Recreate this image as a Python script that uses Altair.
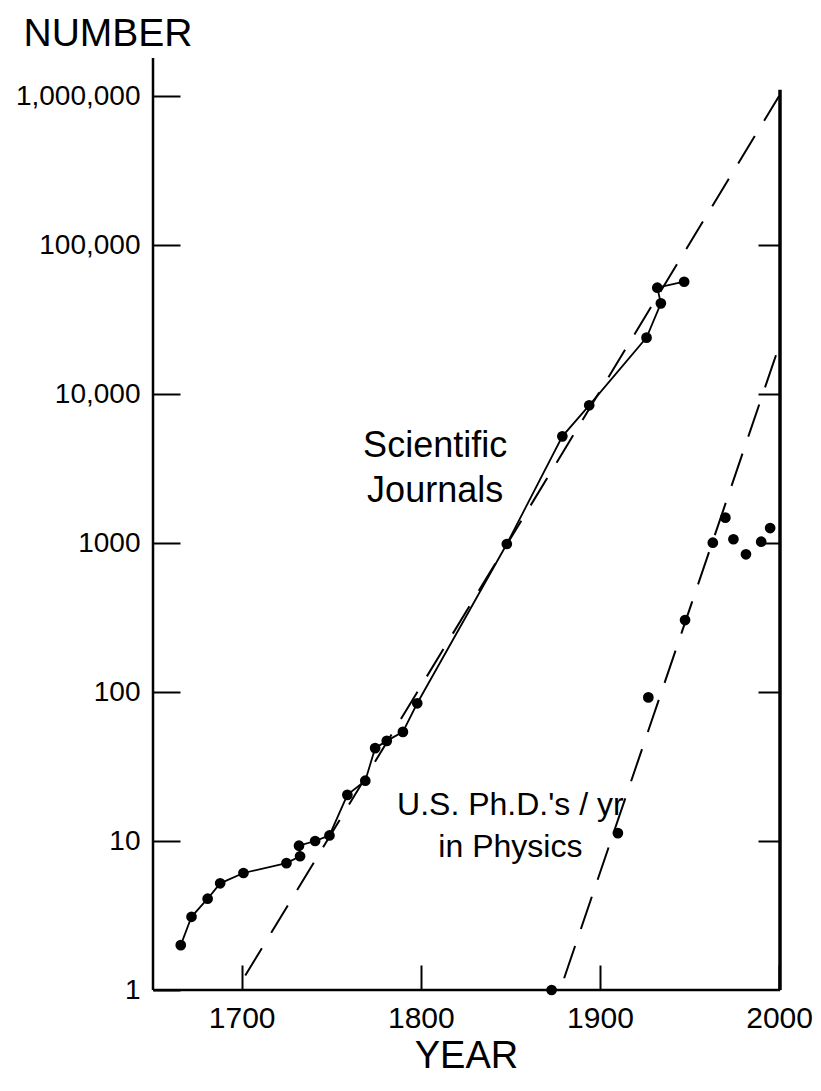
import altair as alt
import pandas as pd

# ---------------- data ----------------
journal_years = [1666, 1672, 1681, 1688, 1701, 1725, 1732.6, 1732, 1741, 1749,
                 1759, 1769, 1774.5, 1781, 1790, 1798, 1848, 1879, 1894, 1926,
                 1934, 1932, 1947]
journal_values = [2.0, 3.1, 4.1, 5.2, 6.1, 7.1, 7.9, 9.3, 10, 10.9,
                  20.4, 25.4, 42, 47, 54, 84, 985, 5200, 8400, 23900,
                  40600, 51700, 56700]

phd_years = [1873, 1910, 1927, 1947.5, 1963, 1970, 1974.5, 1981.5, 1990, 1995]
phd_values = [1.0, 11.3, 92, 304, 1005, 1480, 1060, 840, 1020, 1260]

journal_fit_years = [1702, 2000]
journal_fit_values = [1.25, 1000000]
phd_fit_years = [1880, 2000]
phd_fit_values = [1.2, 21000]

x_ticks = [1700, 1800, 1900, 2000]
y_ticks = [1, 10, 100, 1000, 10000, 100000, 1000000]
right_ticks = [10, 100, 1000, 10000, 100000]

journal_label = "Scientific\nJournals"
phd_label = "U.S. Ph.D.'s / yr\nin Physics"

# ---------------- chart ----------------
FONT = "Liberation Sans, Arial, Helvetica, sans-serif"
W, H = 627, 932

X_SCALE = alt.Scale(domain=[1650.5, 2000.5], nice=False, zero=False)
Y_SCALE = alt.Scale(type="log", domain=[1, 1800000], nice=False)

journals = pd.DataFrame({"year": journal_years, "value": journal_values,
                         "order": list(range(len(journal_years)))})
phd = pd.DataFrame({"year": phd_years, "value": phd_values})
jfit = pd.DataFrame({"year": journal_fit_years, "value": journal_fit_values})
pfit = pd.DataFrame({"year": phd_fit_years, "value": phd_fit_values})
dummy = alt.Data(values=[{"k": 0}])

x_axis = alt.Axis(orient="bottom", values=x_ticks, format="d", domain=False,
                  ticks=True, tickSize=25, tickWidth=2, tickColor="black",
                  offset=-25, labelFont=FONT, labelFontSize=30,
                  labelColor="black", labelPadding=13, labelFlush=False,
                  labelOverlap=False, grid=False, title="YEAR",
                  titleFont=FONT, titleFontSize=38, titleFontWeight="normal",
                  titleColor="black", titleBaseline="alphabetic",
                  titleAlign="center", titleX=313, titleY=102)

y_axis = alt.Axis(orient="left", values=y_ticks,
                  labelExpr="datum.value >= 10000 ? format(datum.value, ',') : format(datum.value, 'd')",
                  domain=False, tickSize=27, tickWidth=2, tickColor="black",
                  offset=-27, labelFont=FONT, labelFontSize=28,
                  labelColor="black", labelPadding=13, labelFlush=False,
                  labelOverlap=False, grid=False, title="NUMBER",
                  titleFont=FONT, titleFontSize=39, titleFontWeight="normal",
                  titleColor="black", titleAngle=0, titleAlign="left",
                  titleBaseline="alphabetic", titleX=-157, titleY=-13)

r_axis = alt.Axis(orient="right", values=right_ticks, domain=False,
                  labels=False, tickSize=22, tickWidth=2, tickColor="black",
                  offset=-22, grid=False, title="")


def X(axis=None):
    if axis is None:
        return alt.X("year:Q", scale=X_SCALE, axis=None)
    return alt.X("year:Q", scale=X_SCALE, axis=axis)


def Y(axis=None):
    if axis is None:
        return alt.Y("value:Q", scale=Y_SCALE, axis=None)
    return alt.Y("value:Q", scale=Y_SCALE, axis=axis)


left_line = alt.Chart(dummy).mark_rule(color="black", strokeWidth=2.5).encode(
    x=alt.value(0), y=alt.value(0), y2=alt.value(H))
bottom_line = alt.Chart(dummy).mark_rule(color="black", strokeWidth=2.5).encode(
    x=alt.value(0), x2=alt.value(W), y=alt.value(H))
right_line = alt.Chart(dummy).mark_rule(color="black", strokeWidth=3.5).encode(
    x=alt.value(W), y=alt.YDatum(1100000, scale=Y_SCALE, axis=None),
    y2=alt.value(H))

jfit_line = alt.Chart(jfit).mark_line(color="black", strokeWidth=2,
                                      strokeDash=[32, 18]).encode(
    x=X(x_axis), y=Y(y_axis))
pfit_line = alt.Chart(pfit).mark_line(color="black", strokeWidth=2,
                                      strokeDash=[34, 18]).encode(
    x=X(), y=Y())

j_line = alt.Chart(journals).mark_line(color="black", strokeWidth=1.8).encode(
    x=X(), y=Y(), order=alt.Order("order:Q"))
j_pts = alt.Chart(journals).mark_point(filled=True, color="black", size=115,
                                       opacity=1).encode(x=X(), y=Y())
p_pts = alt.Chart(phd).mark_point(filled=True, color="black", size=115,
                                  opacity=1).encode(x=X(), y=Y(r_axis))

sci_text = alt.Chart(dummy).mark_text(
    text=journal_label, lineBreak="\n", font=FONT, fontSize=36, lineHeight=45,
    align="center", baseline="alphabetic", color="black").encode(
    x=alt.XDatum(1808, scale=X_SCALE, axis=None),
    y=alt.YDatum(3780, scale=Y_SCALE, axis=None))
phd_text = alt.Chart(dummy).mark_text(
    text=phd_label, lineBreak="\n", font=FONT, fontSize=32, lineHeight=42,
    align="center", baseline="alphabetic", color="black").encode(
    x=alt.XDatum(1850, scale=X_SCALE, axis=None),
    y=alt.YDatum(14.9, scale=Y_SCALE, axis=None))

chart = alt.layer(
    left_line, bottom_line, right_line, jfit_line, pfit_line, j_line, j_pts,
    p_pts, sci_text, phd_text
).resolve_axis(x="independent", y="independent").properties(
    width=W, height=H,
    padding={"left": 145, "top": 50, "right": 33, "bottom": 88},
    autosize=alt.AutoSizeParams(type="none"),
    background="white",
).configure_view(stroke="transparent")

chart.save("out.html", embed_options={"renderer": "svg", "actions": False})
